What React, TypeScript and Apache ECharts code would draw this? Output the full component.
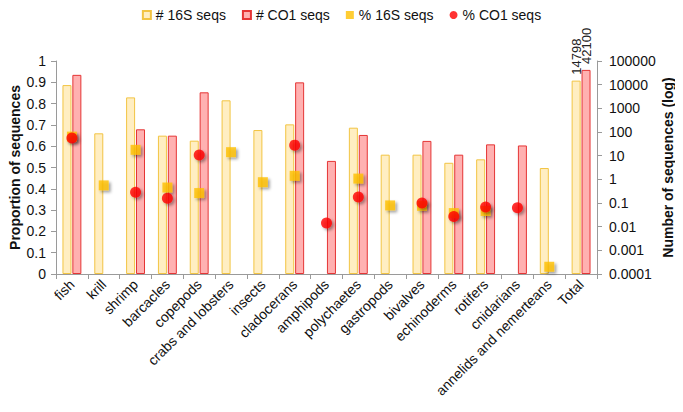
import React, { useEffect, useRef } from 'react';
import * as echarts from 'echarts';

const categories = [
  'fish', 'krill', 'shrimp', 'barcacles', 'copepods', 'crabs and lobsters', 'insects',
  'cladocerans', 'amphipods', 'polychaetes', 'gastropods', 'bivalves', 'echinoderms',
  'rotifers', 'cnidarians', 'annelids and nemerteans', 'Total',
];

// Number of sequences (right, log axis)
const count16S: (number | null)[] = [9600, 88, 2900, 70, 43, 2180, 121, 210, null, 152, 11, 11, 5, 7, null, 3, 14798];
const countCO1: (number | null)[] = [26000, null, 130, 70, 4750, null, null, 12500, 6, 75, null, 42, 11, 30, 27, null, 42100];

// Proportion of sequences (left axis)
const pct16S: (number | null)[] = [0.645, 0.416, 0.583, 0.406, 0.38, 0.572, 0.431, 0.461, null, 0.448, 0.322, 0.32, 0.286, 0.296, null, 0.034, null];
const pctCO1: (number | null)[] = [0.638, null, 0.384, 0.356, 0.559, null, null, 0.605, 0.239, 0.361, null, 0.333, 0.27, 0.315, 0.311, null, null];

const leftTicks = { min: 0, max: 1, interval: 0.1 };
const rightTicks = { min: 0.0001, max: 100000 };

const FONT = "'Liberation Sans', Arial, sans-serif";

export default function App() {
  const ref = useRef<HTMLDivElement>(null);
  useEffect(() => {
    if (!ref.current) return;
    const chart = echarts.init(ref.current, undefined, { renderer: 'svg' });
    const last = categories.length - 1;
    const totalLabel = {
      show: true,
      position: 'top',
      rotate: 90,
      align: 'left',
      verticalAlign: 'middle',
      distance: 6,
      color: '#222',
      fontSize: 13,
      fontFamily: FONT,
    };
    const barData = (arr: (number | null)[]) =>
      arr.map((v, i) => (v == null ? '-' : i === last ? { value: v, label: totalLabel } : v));
    const ptData = (arr: (number | null)[]) => arr.map((v) => (v == null ? '-' : v));
    const shadow = {
      shadowColor: 'rgba(0,0,0,0.45)',
      shadowBlur: 3,
      shadowOffsetX: 2,
      shadowOffsetY: 2,
    };
    const axisLineGray = { color: '#9a9a9a' };
    chart.setOption({
      animation: false,
      textStyle: { fontFamily: FONT },
      legend: {
        top: 0,
        left: 'center',
        padding: 0,
        itemWidth: 8,
        itemHeight: 8,
        itemGap: 16,
        textStyle: { fontSize: 14, lineHeight: 14, color: '#111', fontFamily: FONT },
        data: [
          { name: '# 16S seqs', icon: 'rect' },
          { name: '# CO1 seqs', icon: 'rect' },
          { name: '% 16S seqs', icon: 'rect' },
          { name: '% CO1 seqs', icon: 'circle' },
        ],
      },
      grid: { left: 48, right: 78, top: 53, bottom: 130, outerBoundsMode: 'none', containLabel: false },
      xAxis: {
        type: 'category',
        data: categories,
        axisLine: { lineStyle: axisLineGray },
        axisTick: { show: true, lineStyle: axisLineGray, length: 5 },
        axisLabel: { rotate: 45, fontSize: 14, color: '#111', margin: 8, interval: 0, fontFamily: FONT },
      },
      yAxis: [
        {
          type: 'value',
          ...leftTicks,
          name: 'Proportion of sequences',
          nameLocation: 'middle',
          nameRotate: 90,
          nameGap: 34,
          nameMoveOverlap: false,
          nameTextStyle: { fontWeight: 'bold', fontSize: 14, color: '#111', fontFamily: FONT },
          axisLine: { show: true, lineStyle: axisLineGray },
          axisTick: { show: true, lineStyle: axisLineGray, length: 5 },
          axisLabel: { fontSize: 14, color: '#111', margin: 10, fontFamily: FONT },
          splitLine: { show: false },
        },
        {
          type: 'log',
          logBase: 10,
          ...rightTicks,
          startValue: rightTicks.min,
          position: 'right',
          name: 'Number of sequences (log)',
          nameLocation: 'middle',
          nameRotate: 90,
          nameGap: 64,
          nameMoveOverlap: false,
          nameTextStyle: { fontWeight: 'bold', fontSize: 14, color: '#111', fontFamily: FONT },
          axisLine: { show: true, lineStyle: axisLineGray },
          axisTick: { show: true, lineStyle: axisLineGray, length: 5 },
          axisLabel: {
            fontSize: 14,
            color: '#111',
            margin: 12,
            fontFamily: FONT,
            formatter: (v: number) => (v >= 1 ? String(Math.round(v)) : String(parseFloat(v.toPrecision(1)))),
          },
          splitLine: { show: false },
        },
      ],
      series: [
        {
          name: '# 16S seqs',
          type: 'bar',
          yAxisIndex: 1,
          barWidth: 9,
          barGap: '10%',
          data: barData(count16S),
          itemStyle: { color: '#FFEEC2', borderColor: '#F2C443', borderWidth: 1 },
        },
        {
          name: '# CO1 seqs',
          type: 'bar',
          yAxisIndex: 1,
          barWidth: 9,
          barGap: '10%',
          data: barData(countCO1),
          itemStyle: { color: '#FFB1B1', borderColor: '#E53535', borderWidth: 1 },
        },
        {
          name: '% 16S seqs',
          type: 'scatter',
          yAxisIndex: 0,
          symbol: 'rect',
          symbolSize: 10,
          data: ptData(pct16S),
          itemStyle: { color: '#FFC000', ...shadow },
          z: 3,
        },
        {
          name: '% CO1 seqs',
          type: 'scatter',
          yAxisIndex: 0,
          symbol: 'circle',
          symbolSize: 11,
          data: ptData(pctCO1),
          itemStyle: { color: '#FF0000', ...shadow },
          z: 4,
        },
      ],
    });
    return () => chart.dispose();
  }, []);
  return <div ref={ref} style={{ width: 667, height: 396 }} />;
}
